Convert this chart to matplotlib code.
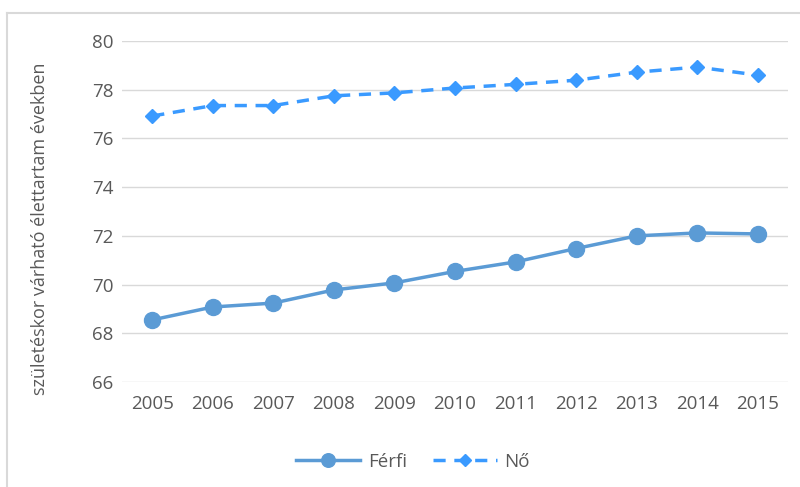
import matplotlib
matplotlib.use("Agg")
import matplotlib.pyplot as plt
from matplotlib.lines import Line2D

# data
years = ["2005", "2006", "2007", "2008", "2009", "2010", "2011", "2012", "2013", "2014", "2015"]
ferfi = [68.55, 69.08, 69.24, 69.78, 70.07, 70.54, 70.93, 71.48, 72.00, 72.12, 72.08]
no = [76.92, 77.35, 77.35, 77.75, 77.87, 78.07, 78.22, 78.39, 78.72, 78.93, 78.60]
yticks = [66, 68, 70, 72, 74, 76, 78, 80]

plt.rcParams['font.family'] = ['Open Sans', 'DejaVu Sans']
grey = '#595959'

fig = plt.figure(figsize=(8, 4.87), dpi=100)
ax = fig.add_axes([0.1525, 0.2156, 0.8325, 0.7002])

x = list(range(len(years)))
ax.plot(x, ferfi, color='#5B9BD5', lw=2.5, marker='o', ms=11.5, label='Férfi')
ax.plot(x, no, color='#3A9AFF', lw=2.5, ls=(0, (3.5, 2.5)), marker='D', ms=7.5,
        label='Nő')

ax.set_xlim(-0.5, len(years) - 0.5)
ax.set_ylim(66, 80)
ax.set_yticks(yticks)
ax.set_xticks(x)
ax.set_xticklabels(years)
ax.grid(axis='y', color='#D9D9D9', lw=1)
ax.set_axisbelow(True)
for s in ax.spines.values():
    s.set_visible(False)
ax.tick_params(length=0, colors=grey, labelsize=13.5)
ax.tick_params(axis='x', pad=9)
ax.tick_params(axis='y', pad=6)
ax.set_ylabel('születéskor várható élettartam években', color=grey, fontsize=13)
ax.yaxis.set_label_coords(-0.11, 0.45)

ax.legend(loc='lower center', bbox_to_anchor=(0.437, -0.31), ncol=2, frameon=False,
          fontsize=13.5, labelcolor=grey, handlelength=3.4, handletextpad=0.4,
          columnspacing=1.4, markerscale=0.85)

# outer chart frame
fig.add_artist(Line2D([7/800, 7/800], [0, 1 - 13/487], color='#D9D9D9', lw=1.5))
fig.add_artist(Line2D([7/800, 1], [1 - 13/487, 1 - 13/487], color='#D9D9D9', lw=1.5))

fig.savefig('out.png', dpi=100)
